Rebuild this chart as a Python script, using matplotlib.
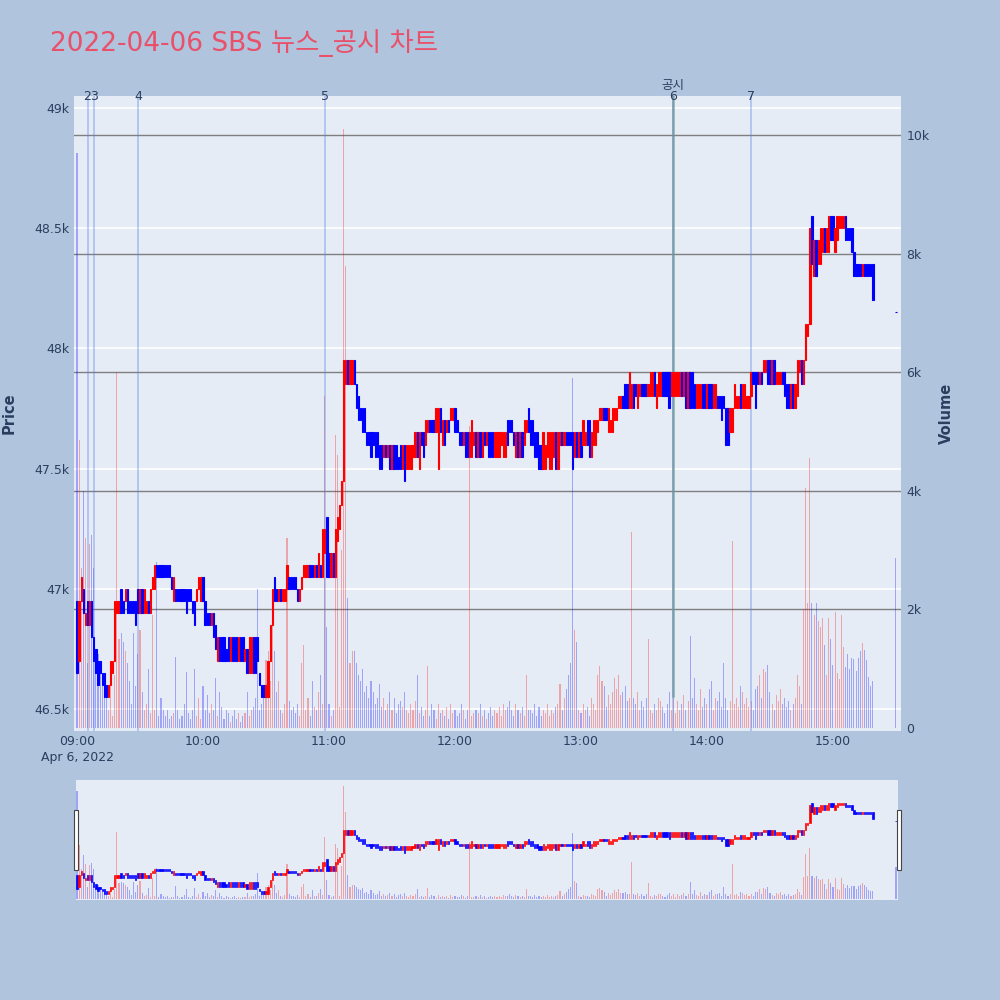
import matplotlib
matplotlib.use('Agg')
import matplotlib.pyplot as plt
import numpy as np
import pandas as pd
from matplotlib.transforms import blended_transform_factory
from matplotlib.patches import Rectangle

plt.rcParams['font.family'] = ['DejaVu Sans', 'Noto Sans CJK KR']

# ---------------- data ----------------
title = "2022-04-06 SBS 뉴스_공시 차트"
session_start = "2022-04-06 09:00"
closing_auction = "2022-04-06 15:30"

opens = [
    46950, 46700, 46950, 47000, 46850, 46950, 46850, 46950, 46800, 46750,
    46700, 46700, 46650, 46650, 46600, 46550, 46600, 46650, 46700, 46900,
    46900, 47000, 46950, 46950, 47000, 46950, 46950, 46950, 46950, 47000,
    46900, 47000, 46900, 46900, 46950, 46900, 47000, 47000, 47100, 47100,
    47100, 47100, 47100, 47100, 47100, 47050, 46950, 47000, 47000, 47000,
    47000, 47000, 47000, 47000, 47000, 46950, 46950, 46950, 47000, 46950,
    47050, 46950, 46900, 46900, 46850, 46900, 46850, 46700, 46800, 46800,
    46800, 46750, 46800, 46700, 46800, 46800, 46800, 46700, 46800, 46800,
    46700, 46750, 46650, 46650, 46800, 46800, 46800, 46650, 46600, 46600,
    46550, 46550, 46700, 46850, 47050, 47000, 46950, 47000, 46950, 46950,
    47000, 47050, 47050, 47050, 47050, 47000, 46950, 47000, 47050, 47050,
    47050, 47100, 47100, 47050, 47100, 47050, 47100, 47050, 47150, 47300,
    47150, 47050, 47150, 47050, 47200, 47250, 47350, 47450, 47850, 47950,
    47850, 47850, 47950, 47850, 47800, 47750, 47750, 47750, 47650, 47650,
    47650, 47650, 47650, 47650, 47600, 47600, 47550, 47600, 47550, 47600,
    47500, 47600, 47600, 47550, 47600, 47500, 47600, 47500, 47500, 47500,
    47550, 47550, 47650, 47500, 47650, 47650, 47600, 47650, 47700, 47700,
    47700, 47650, 47500, 47750, 47600, 47700, 47650, 47700, 47700, 47700,
    47750, 47700, 47650, 47650, 47600, 47650, 47650, 47550, 47550, 47600,
    47650, 47550, 47650, 47550, 47650, 47600, 47650, 47650, 47650, 47550,
    47550, 47550, 47600, 47550, 47550, 47700, 47700, 47700, 47650, 47550,
    47650, 47550, 47650, 47600, 47650, 47750, 47700, 47700, 47650, 47650,
    47600, 47600, 47500, 47500, 47550, 47500, 47500, 47550, 47650, 47500,
    47600, 47650, 47600, 47650, 47650, 47650, 47650, 47550, 47650, 47550,
    47650, 47600, 47600, 47700, 47700, 47550, 47600, 47600, 47650, 47700,
    47700, 47750, 47750, 47650, 47650, 47650, 47700, 47700, 47750, 47750,
    47800, 47850, 47850, 47750, 47750, 47850, 47850, 47750, 47800, 47850,
    47850, 47850, 47800, 47800, 47800, 47900, 47750, 47800, 47800, 47900,
    47900, 47900, 47900, 47800, 47800, 47800, 47800, 47800, 47900, 47800,
    47900, 47750, 47900, 47900, 47850, 47750, 47750, 47750, 47850, 47850,
    47750, 47850, 47850, 47750, 47750, 47800, 47800, 47800, 47800, 47750,
    47750, 47650, 47650, 47750, 47750, 47750, 47850, 47750, 47750, 47750,
    47750, 47800, 47900, 47900, 47900, 47850, 47900, 47900, 47900, 47950,
    47950, 47850, 47950, 47850, 47850, 47850, 47900, 47900, 47850, 47850,
    47750, 47850, 47750, 47800, 47900, 47950, 47850, 47950, 48050, 48100,
    48550, 48300, 48450, 48350, 48350, 48400, 48500, 48400, 48400, 48550,
    48550, 48400, 48450, 48500, 48500, 48500, 48550, 48500, 48500, 48500,
    48400, 48350, 48350, 48350, 48300, 48350, 48350, 48350, 48350, 48350,
    48150,
]

closes = [
    46650, 46950, 47050, 46900, 46900, 46850, 46950, 46800, 46700, 46650,
    46600, 46650, 46600, 46550, 46550, 46600, 46700, 46700, 46950, 46950,
    46950, 46900, 46900, 47000, 46900, 46900, 46900, 46900, 46850, 46900,
    47000, 46900, 47000, 46950, 46900, 47000, 47050, 47100, 47050, 47050,
    47050, 47050, 47050, 47050, 47050, 47000, 47050, 46950, 46950, 46950,
    46950, 46950, 46900, 46950, 46950, 46900, 46850, 47000, 47050, 47050,
    46950, 46850, 46850, 46850, 46900, 46800, 46750, 46800, 46700, 46700,
    46700, 46700, 46700, 46800, 46700, 46700, 46700, 46800, 46700, 46700,
    46750, 46650, 46800, 46800, 46650, 46650, 46700, 46600, 46550, 46550,
    46600, 46700, 46850, 47000, 46950, 46950, 47000, 46950, 47000, 47000,
    47100, 47000, 47000, 47000, 47000, 46950, 47000, 47050, 47100, 47100,
    47100, 47050, 47050, 47100, 47050, 47150, 47050, 47250, 47250, 47050,
    47050, 47150, 47050, 47250, 47300, 47350, 47450, 47950, 47950, 47850,
    47950, 47950, 47850, 47750, 47700, 47700, 47650, 47650, 47600, 47600,
    47550, 47600, 47550, 47550, 47500, 47500, 47600, 47550, 47600, 47500,
    47600, 47500, 47500, 47500, 47500, 47600, 47450, 47600, 47600, 47600,
    47600, 47650, 47550, 47650, 47600, 47550, 47700, 47700, 47650, 47650,
    47650, 47750, 47750, 47650, 47700, 47600, 47700, 47650, 47750, 47750,
    47650, 47650, 47600, 47600, 47650, 47550, 47550, 47650, 47700, 47650,
    47550, 47650, 47550, 47650, 47600, 47650, 47550, 47550, 47550, 47650,
    47650, 47650, 47650, 47650, 47650, 47600, 47650, 47650, 47600, 47650,
    47550, 47650, 47550, 47700, 47700, 47650, 47600, 47600, 47550, 47550,
    47500, 47500, 47650, 47600, 47650, 47650, 47650, 47650, 47500, 47650,
    47650, 47600, 47650, 47600, 47600, 47600, 47500, 47650, 47550, 47650,
    47550, 47700, 47650, 47600, 47550, 47650, 47700, 47700, 47700, 47750,
    47750, 47700, 47700, 47750, 47700, 47750, 47750, 47750, 47800, 47800,
    47750, 47750, 47750, 47900, 47850, 47750, 47800, 47850, 47850, 47800,
    47800, 47800, 47850, 47900, 47900, 47800, 47850, 47900, 47900, 47800,
    47800, 47800, 47750, 47900, 47900, 47900, 47900, 47900, 47800, 47900,
    47750, 47900, 47750, 47750, 47750, 47850, 47850, 47850, 47750, 47750,
    47850, 47750, 47750, 47850, 47850, 47750, 47750, 47700, 47750, 47600,
    47600, 47750, 47750, 47850, 47800, 47800, 47750, 47850, 47850, 47800,
    47800, 47900, 47850, 47750, 47850, 47900, 47850, 47950, 47950, 47850,
    47850, 47950, 47850, 47900, 47900, 47900, 47850, 47800, 47750, 47750,
    47850, 47750, 47850, 47950, 47950, 47850, 47950, 48100, 48100, 48500,
    48350, 48450, 48300, 48450, 48500, 48500, 48400, 48500, 48550, 48450,
    48450, 48500, 48550, 48550, 48550, 48550, 48450, 48450, 48450, 48400,
    48300, 48300, 48300, 48300, 48350, 48300, 48300, 48300, 48300, 48200,
    48150,
]

volumes = [
    9700, 4850, 2700, 4000, 3200, 1100, 3100, 3250, 2700, 1100,
    1250, 1100, 700, 900, 600, 300, 800, 200, 900, 6000,
    1500, 1600, 1450, 1300, 1100, 800, 400, 1600, 700, 1250,
    1650, 600, 300, 400, 1000, 250, 1900, 300, 2800, 200,
    500, 300, 200, 300, 150, 200, 250, 1200, 300, 150,
    200, 400, 950, 250, 150, 300, 1000, 200, 500, 150,
    700, 300, 550, 250, 400, 300, 850, 200, 600, 350,
    150, 300, 250, 100, 200, 300, 150, 250, 100, 200,
    250, 600, 200, 300, 350, 500, 2350, 300, 400, 500,
    1150, 1300, 800, 1800, 1300, 600, 800, 300, 250, 400,
    3200, 450, 300, 350, 250, 400, 200, 1100, 1400, 300,
    500, 200, 800, 350, 300, 600, 900, 400, 5600, 1700,
    400, 200, 300, 4950, 4600, 350, 3000, 10100, 7800, 2200,
    1100, 1300, 1300, 1100, 900, 800, 1000, 600, 700, 500,
    800, 600, 400, 500, 750, 350, 500, 300, 400, 600,
    300, 500, 250, 400, 450, 350, 600, 300, 250, 400,
    300, 450, 900, 250, 350, 200, 300, 1050, 200, 400,
    300, 150, 400, 250, 300, 200, 350, 150, 400, 250,
    300, 200, 250, 400, 300, 150, 300, 5100, 200, 250,
    300, 250, 400, 200, 300, 150, 250, 350, 200, 300,
    250, 350, 200, 400, 300, 350, 450, 300, 200, 400,
    300, 250, 350, 200, 900, 300, 300, 250, 400, 200,
    350, 200, 300, 250, 400, 200, 300, 250, 350, 400,
    750, 300, 500, 650, 900, 1100, 5900, 1650, 1450, 300,
    250, 400, 300, 350, 200, 500, 400, 300, 900, 1050,
    800, 700, 350, 550, 400, 600, 850, 650, 900, 550,
    600, 700, 450, 500, 3300, 500, 400, 600, 300, 450,
    350, 500, 1500, 300, 250, 400, 300, 500, 450, 350,
    250, 400, 600, 300, 500, 250, 450, 300, 400, 550,
    300, 450, 1550, 500, 850, 400, 300, 650, 350, 500,
    400, 650, 800, 300, 500, 450, 600, 350, 1100, 500,
    300, 450, 3150, 400, 500, 350, 700, 600, 400, 500,
    350, 450, 300, 650, 700, 900, 500, 1000, 950, 1070,
    600, 400, 300, 550, 450, 650, 400, 500, 350, 450,
    300, 400, 500, 900, 700, 400, 2000, 4050, 2100, 4550,
    2100, 1900, 2100, 1800, 1700, 1850, 1400, 900, 1850, 1500,
    1070, 1950, 930, 820, 1900, 1370, 1030, 1250, 1000, 1180,
    1160, 960, 1180, 1290, 1430, 1320, 1140, 860, 710, 790,
    2870,
]

news_times = ["09:05", "09:08", "09:29", "10:58", "13:44", "14:21"]
news_labels = ["2", "3", "4", "5", "6", "7"]
disclosure_time = "13:44"
disclosure_label = "공시"

price_ticks = [46500, 47000, 47500, 48000, 48500, 49000]
price_tick_labels = ["46.5k", "47k", "47.5k", "48k", "48.5k", "49k"]
volume_ticks = [0, 2000, 4000, 6000, 8000, 10000]
volume_tick_labels = ["0", "2k", "4k", "6k", "8k", "10k"]
hour_ticks = ["09:00", "10:00", "11:00", "12:00", "13:00", "14:00", "15:00"]

# ---------------- derived ----------------
t0 = pd.Timestamp(session_start)
times = pd.date_range(session_start, periods=len(opens) - 1, freq="min").append(
    pd.DatetimeIndex([closing_auction]))
x = ((times - t0).total_seconds() / 60.0).values

def to_min(hhmm):
    return (pd.Timestamp("2022-04-06 " + hhmm) - t0).total_seconds() / 60.0

o = np.array(opens, float)
c = np.array(closes, float)
v = np.array(volumes, float)
up = c > o
INC = "#ff0000"
DEC = "#0000ff"
ccol = np.where(up, INC, DEC)
vcol = [(1, 0, 0, 0.3) if u else (0, 0, 1, 0.3) for u in up]

BG = "#b0c4de"
PLOT_BG = "#e5ecf6"
TXT = "#2a3f5f"

fig = plt.figure(figsize=(10, 10), dpi=100)
fig.patch.set_facecolor(BG)

rect = [0.074, 0.269, 0.827, 0.635]
ax_v = fig.add_axes(rect)
ax_p = fig.add_axes(rect, sharex=ax_v)
ax_p.patch.set_visible(False)
ax_v.set_facecolor(PLOT_BG)

PRICE_LIM = (46408, 49050)
VOL_LIM = (-51, 10660)
XLIM_MAIN = (-1.43, 392.4)

ax_p.set_ylim(*PRICE_LIM)
ax_v.set_ylim(*VOL_LIM)
ax_v.set_xlim(*XLIM_MAIN)

# gridlines (below everything)
trans = blended_transform_factory(ax_v.transAxes, ax_p.transData)
for p in price_ticks:
    ax_v.plot([0, 1], [p, p], transform=trans, color="white", lw=1.2, zorder=0.5)
for vv in volume_ticks[1:]:
    ax_v.axhline(vv, color="#7f7f7f", lw=1.0, zorder=0.6)

# volume bars
ax_v.bar(x, v, width=0.5, color=vcol, zorder=1, linewidth=0)

# news vertical lines
lab_tr = blended_transform_factory(ax_p.transData, ax_p.transAxes)
xd = to_min(disclosure_time)
ax_p.axvline(xd, ymin=0.055, ymax=1.0, color=(0.45, 0.62, 0.5, 0.8), lw=1.8, zorder=2.0)
for t, lab in zip(news_times, news_labels):
    xm = to_min(t)
    ax_p.axvline(xm, color=(0.35, 0.5, 0.9, 0.38), lw=1.3, zorder=2.1)
    ax_p.text(xm, 1.0, lab, transform=lab_tr,
              ha="center", va="center", fontsize=9, color=TXT, zorder=6)
ax_p.text(xd, 1.0 + 11 / 635, disclosure_label, transform=lab_tr,
          ha="center", va="center", fontsize=9, color=TXT, zorder=6)

# candles
def draw_candles(ax, lw, w):
    h = np.abs(c - o)
    b = np.minimum(o, c)
    ax.bar(x, h, bottom=b, width=w, color=ccol, edgecolor=ccol, linewidth=lw, zorder=3)

draw_candles(ax_p, 0.8, 0.65)

# axes styling
for a in (ax_v, ax_p):
    for s in a.spines.values():
        s.set_visible(False)

ax_p.set_yticks(price_ticks)
ax_p.set_yticklabels(price_tick_labels)
ax_p.tick_params(axis="y", length=0, pad=3, labelsize=9, labelcolor=TXT)
ax_p.set_ylabel("Price", fontsize=10.5, fontweight="bold", color=TXT, labelpad=13)

ax_v.yaxis.tick_right()
ax_v.yaxis.set_label_position("right")
ax_v.set_yticks(volume_ticks)
ax_v.set_yticklabels(volume_tick_labels)
ax_v.tick_params(axis="y", length=0, pad=4, labelsize=9, labelcolor=TXT)
ax_v.set_ylabel("Volume", fontsize=10.5, fontweight="bold", color=TXT, labelpad=7, rotation=90)
ax_v.tick_params(axis="x", labelbottom=False, length=0)

xt = [to_min(h) for h in hour_ticks]
ax_p.set_xticks(xt)
lbls = list(hour_ticks)
lbls[0] = hour_ticks[0] + "\n" + times[0].strftime("%b ") + str(times[0].day) + times[0].strftime(", %Y")
ax_p.set_xticklabels(lbls, linespacing=1.3)
ax_p.tick_params(axis="x", length=0, pad=3, labelsize=9, labelcolor=TXT)

# title
fig.text(0.05, 1 - 0.051, title, fontsize=19, color="#e9506a", ha="left", va="baseline")

# ---------------- range slider ----------------
srect = [0.076, 0.100, 0.822, 0.120]
ax_sv = fig.add_axes(srect)
ax_sp = fig.add_axes(srect, sharex=ax_sv)
ax_sp.patch.set_visible(False)
ax_sv.set_facecolor(PLOT_BG)
ax_sv.bar(x, v, width=0.5, color=vcol, zorder=1, linewidth=0)
draw_candles(ax_sp, 0.5, 0.65)
ax_sv.set_xlim(-0.48, 390.95)
ax_sv.set_ylim(*VOL_LIM)
ax_sp.set_ylim(*PRICE_LIM)
for a in (ax_sv, ax_sp):
    a.set_xticks([])
    a.set_yticks([])
    for s in a.spines.values():
        s.set_visible(False)

for hx in (0.0735, 0.8965):
    fig.patches.append(Rectangle((hx, 0.130), 0.004, 0.060, transform=fig.transFigure,
                                 facecolor="white", edgecolor="#444444", lw=0.8, zorder=10))

fig.savefig("out.png", dpi=100, facecolor=BG)
